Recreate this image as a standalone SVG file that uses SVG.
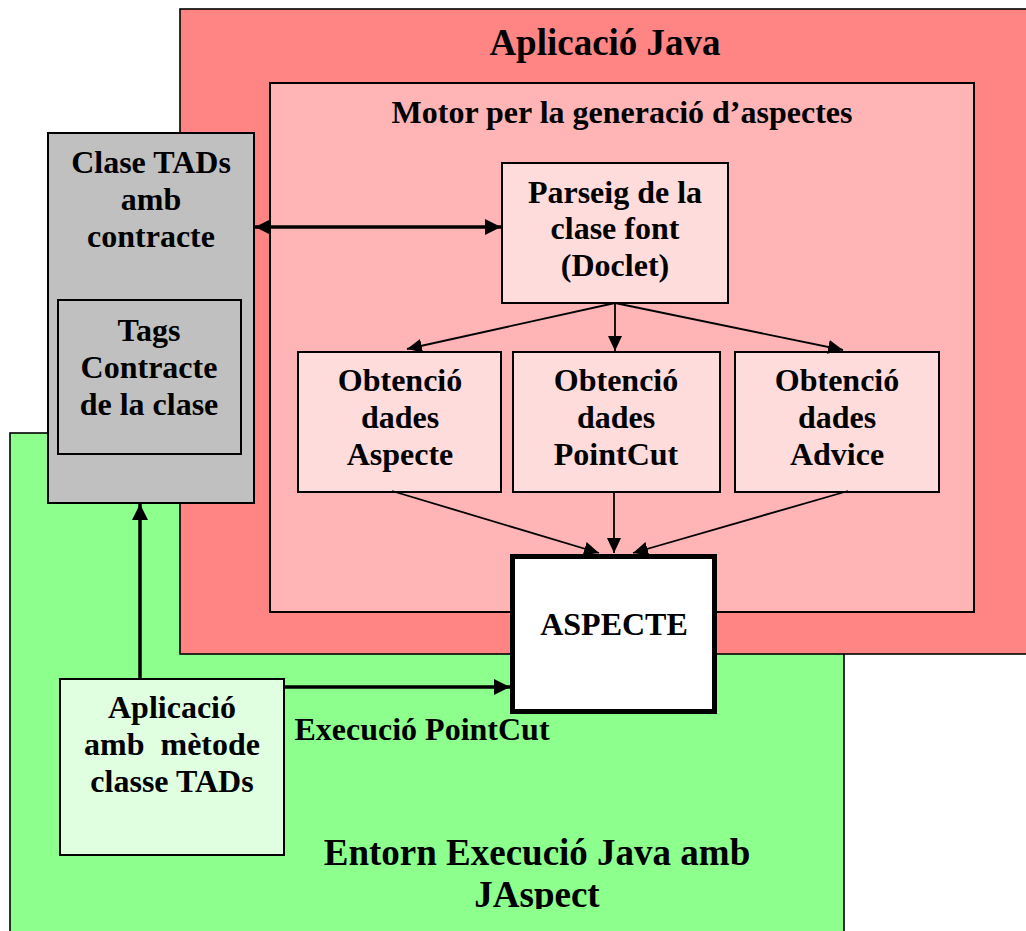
<svg xmlns="http://www.w3.org/2000/svg" width="1026" height="931" viewBox="0 0 1026 931">
  <style>
    text { font-family: "Liberation Serif", "Times New Roman", serif; font-weight: bold; fill: #000; text-anchor: middle; }
    .t32 { font-size: 32px; }
    .t37 { font-size: 37px; }
    .box { stroke: #000; stroke-width: 2; }
    .frame { stroke: #000; stroke-width: 1.6; }
    .thin { stroke: #000; stroke-width: 1.8; fill: none; }
    .thick { stroke: #000; stroke-width: 3.5; fill: none; }
  </style>
  <defs>
    <marker id="arrowThin" markerUnits="userSpaceOnUse" markerWidth="15" markerHeight="14" refX="15" refY="7" orient="auto">
      <path d="M0,0 L15,7 L0,14 z" fill="#000"/>
    </marker>
    <marker id="arrowThick" markerUnits="userSpaceOnUse" markerWidth="16" markerHeight="16" refX="16" refY="8" orient="auto-start-reverse">
      <path d="M0,0 L16,8 L0,16 z" fill="#000"/>
    </marker>
    <clipPath id="envClip">
      <rect x="10" y="433" width="834" height="476"/>
    </clipPath>
  </defs>

  <!-- Runtime environment (green) -->
  <g id="entorn-execucio">
    <rect class="frame" x="10" y="433" width="834" height="520" fill="#8CFF8C"/>
    <g clip-path="url(#envClip)">
      <text class="t37" x="537" y="865">Entorn Execució Java amb</text>
      <text class="t37" x="537" y="907">JAspect</text>
    </g>
  </g>

  <!-- Java application (red) -->
  <g id="aplicacio-java">
    <rect class="frame" x="180" y="9" width="900" height="645" fill="#FF8585"/>
    <text class="t37" x="605" y="55">Aplicació Java</text>
  </g>

  <!-- Aspect generation engine -->
  <g id="motor">
    <rect class="box" x="270" y="83" width="704" height="529" fill="#FFB5B5"/>
    <text class="t32" x="622" y="123">Motor per la generació d’aspectes</text>
  </g>

  <g id="parseig">
    <rect class="box" x="502" y="163" width="226" height="140" fill="#FFDCDC"/>
    <text class="t32" x="615" y="203">Parseig de la</text>
    <text class="t32" x="615" y="239">clase font</text>
    <text class="t32" x="615" y="276">(Doclet)</text>
  </g>

  <g id="obtencio-aspecte">
    <rect class="box" x="298" y="352" width="203" height="140" fill="#FFDCDC"/>
    <text class="t32" x="400" y="391">Obtenció</text>
    <text class="t32" x="400" y="428">dades</text>
    <text class="t32" x="400" y="465">Aspecte</text>
  </g>

  <g id="obtencio-pointcut">
    <rect class="box" x="513" y="352" width="207" height="140" fill="#FFDCDC"/>
    <text class="t32" x="616" y="391">Obtenció</text>
    <text class="t32" x="616" y="428">dades</text>
    <text class="t32" x="616" y="465">PointCut</text>
  </g>

  <g id="obtencio-advice">
    <rect class="box" x="735" y="352" width="204" height="140" fill="#FFDCDC"/>
    <text class="t32" x="837" y="391">Obtenció</text>
    <text class="t32" x="837" y="428">dades</text>
    <text class="t32" x="837" y="465">Advice</text>
  </g>

  <!-- ADT class with contract -->
  <g id="clase-tads">
    <rect class="box" x="48" y="133" width="206" height="370" fill="#C0C0C0"/>
    <text class="t32" x="151" y="173">Clase TADs</text>
    <text class="t32" x="151" y="210">amb</text>
    <text class="t32" x="151" y="247">contracte</text>
  </g>

  <g id="tags-contracte">
    <rect class="box" x="58" y="300" width="183" height="154" fill="#C0C0C0"/>
    <text class="t32" x="149" y="341">Tags</text>
    <text class="t32" x="149" y="378">Contracte</text>
    <text class="t32" x="149" y="415">de la clase</text>
  </g>

  <g id="aplicacio-metode">
    <rect class="box" x="60" y="679" width="224" height="176" fill="#E0FFE0"/>
    <text class="t32" x="172" y="718">Aplicació</text>
    <text class="t32" x="172" y="755" xml:space="preserve">amb  mètode</text>
    <text class="t32" x="172" y="792">classe TADs</text>
  </g>

  <g id="aspecte">
    <rect x="512.5" y="556.5" width="202" height="155" fill="#FFFFFF" stroke="#000" stroke-width="5"/>
    <text class="t32" x="614" y="635">ASPECTE</text>
  </g>

  <!-- Connectors -->
  <g id="connectors">
    <line class="thick" x1="255" y1="227" x2="501" y2="227" marker-start="url(#arrowThick)" marker-end="url(#arrowThick)"/>
    <line class="thin" x1="615" y1="303" x2="407" y2="349" marker-end="url(#arrowThin)"/>
    <line class="thin" x1="615" y1="303" x2="615" y2="351" marker-end="url(#arrowThin)"/>
    <line class="thin" x1="615" y1="303" x2="843" y2="350" marker-end="url(#arrowThin)"/>
    <line class="thin" x1="392" y1="491" x2="599" y2="553" marker-end="url(#arrowThin)"/>
    <line class="thin" x1="614" y1="492" x2="614" y2="553" marker-end="url(#arrowThin)"/>
    <line class="thin" x1="848" y1="491" x2="633" y2="553" marker-end="url(#arrowThin)"/>
    <line class="thick" x1="140" y1="679" x2="140" y2="504" marker-end="url(#arrowThick)"/>
    <line class="thick" x1="284" y1="687" x2="510" y2="687" marker-end="url(#arrowThick)"/>
    <text class="t32" x="422" y="740">Execució PointCut</text>
  </g>
</svg>
